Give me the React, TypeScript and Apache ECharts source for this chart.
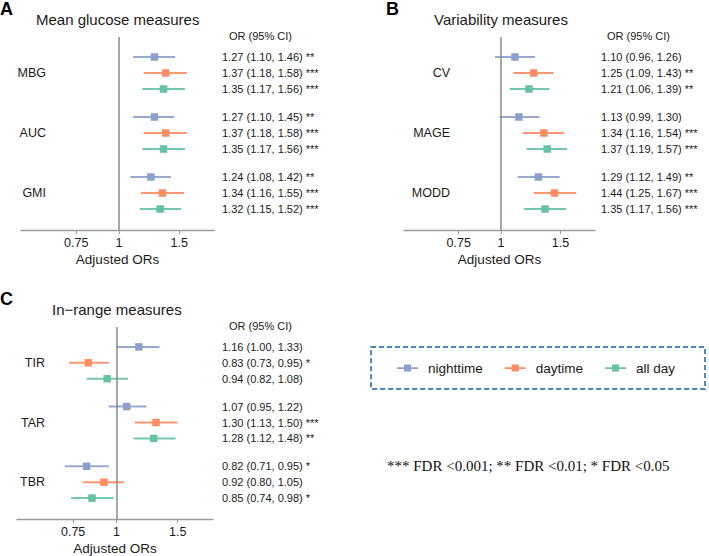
import React, { useEffect, useRef } from "react";
import * as echarts from "echarts";

// ---------- data ----------
const periods = ["nighttime", "daytime", "all day"];
const periodColors = ["#8da0cb", "#fc8d62", "#66c2a5"];
const xTickValues = [0.75, 1, 1.5];

// Panel A: Mean glucose measures
const measuresA = ["MBG", "AUC", "GMI"];
const nightOrA = [1.27, 1.27, 1.24];
const nightLoA = [1.1, 1.1, 1.08];
const nightHiA = [1.46, 1.45, 1.42];
const nightSigA = ["**", "**", "**"];
const dayOrA = [1.37, 1.37, 1.34];
const dayLoA = [1.18, 1.18, 1.16];
const dayHiA = [1.58, 1.58, 1.55];
const daySigA = ["***", "***", "***"];
const allOrA = [1.35, 1.35, 1.32];
const allLoA = [1.17, 1.17, 1.15];
const allHiA = [1.56, 1.56, 1.52];
const allSigA = ["***", "***", "***"];

// Panel B: Variability measures
const measuresB = ["CV", "MAGE", "MODD"];
const nightOrB = [1.1, 1.13, 1.29];
const nightLoB = [0.96, 0.99, 1.12];
const nightHiB = [1.26, 1.3, 1.49];
const nightSigB = ["", "", "**"];
const dayOrB = [1.25, 1.34, 1.44];
const dayLoB = [1.09, 1.16, 1.25];
const dayHiB = [1.43, 1.54, 1.67];
const daySigB = ["**", "***", "***"];
const allOrB = [1.21, 1.37, 1.35];
const allLoB = [1.06, 1.19, 1.17];
const allHiB = [1.39, 1.57, 1.56];
const allSigB = ["**", "***", "***"];

// Panel C: In-range measures
const measuresC = ["TIR", "TAR", "TBR"];
const nightOrC = [1.16, 1.07, 0.82];
const nightLoC = [1.0, 0.95, 0.71];
const nightHiC = [1.33, 1.22, 0.95];
const nightSigC = ["", "", "*"];
const dayOrC = [0.83, 1.3, 0.92];
const dayLoC = [0.73, 1.13, 0.8];
const dayHiC = [0.95, 1.5, 1.05];
const daySigC = ["*", "***", ""];
const allOrC = [0.94, 1.28, 0.85];
const allLoC = [0.82, 1.12, 0.74];
const allHiC = [1.08, 1.48, 0.98];
const allSigC = ["", "**", "*"];

const panels = [
  {
    letter: "A",
    title: "Mean glucose measures",
    measures: measuresA,
    sets: [
      [nightOrA, nightLoA, nightHiA, nightSigA],
      [dayOrA, dayLoA, dayHiA, daySigA],
      [allOrA, allLoA, allHiA, allSigA],
    ],
  },
  {
    letter: "B",
    title: "Variability measures",
    measures: measuresB,
    sets: [
      [nightOrB, nightLoB, nightHiB, nightSigB],
      [dayOrB, dayLoB, dayHiB, daySigB],
      [allOrB, allLoB, allHiB, allSigB],
    ],
  },
  {
    letter: "C",
    title: "In\u2212range measures",
    measures: measuresC,
    sets: [
      [nightOrC, nightLoC, nightHiC, nightSigC],
      [dayOrC, dayLoC, dayHiC, daySigC],
      [allOrC, allLoC, allHiC, allSigC],
    ],
  },
];

// ---------- layout ----------
const FONT = '"Liberation Sans", Arial, Helvetica, sans-serif';
const GROUP_STEP = 3.75;
const layouts = [
  { left: 21, top: 37, width: 193, height: 193, labelMargin: -25, letterX: 0, letterY: 0, titleX: 36, titleY: 12, headX: 229, headY: 30, textOff: 8 },
  { left: 404, top: 37, width: 191, height: 193, labelMargin: -46, letterX: 386, letterY: 0, titleX: 434, titleY: 12, headX: 607, headY: 30, textOff: 6 },
  { left: 17, top: 327, width: 196, height: 192, labelMargin: -28, letterX: 0, letterY: 290, titleX: 52, titleY: 302, headX: 229, headY: 320, textOff: 9 },
];

const fmt = (v: number) => v.toFixed(2);

export default function App() {
  const ref = useRef<HTMLDivElement>(null);

  useEffect(() => {
    if (!ref.current) return;
    const chart = echarts.init(ref.current, undefined, { renderer: "svg" });

    const grids: any[] = [];
    const xAxes: any[] = [];
    const yAxes: any[] = [];
    const series: any[] = [];
    const titles: any[] = [];

    panels.forEach((panel, pi) => {
      const L = layouts[pi];
      grids.push({ left: L.left, top: L.top, width: L.width, height: L.height });
      xAxes.push({
        type: "value",
        gridIndex: pi,
        min: -0.66,
        max: 0.64,
        axisLine: { show: true, onZero: false, lineStyle: { color: "#9a9a9a", width: 1.3 } },
        axisTick: {
          show: true,
          customValues: xTickValues.map((v) => Math.log(v)),
          length: 4,
          lineStyle: { color: "#9a9a9a", width: 1 },
        },
        axisLabel: {
          customValues: xTickValues.map((v) => Math.log(v)),
          formatter: (v: number) => String(Number(Math.exp(v).toFixed(2))),
          color: "#1a1a1a",
          fontSize: 12.5,
          fontFamily: FONT,
          margin: 6,
        },
        splitLine: { show: false },
        name: "Adjusted ORs",
        nameLocation: "middle",
        nameGap: 22,
        nameTextStyle: { color: "#1a1a1a", fontSize: 13.5, fontFamily: FONT },
      });
      const labelPos = panel.measures.map((_, gi) => gi * GROUP_STEP + 1);
      yAxes.push({
        type: "value",
        gridIndex: pi,
        inverse: true,
        min: -1.25,
        max: 10.8125,
        axisLine: { show: false, onZero: false },
        axisTick: { show: false },
        splitLine: { show: false },
        axisLabel: {
          customValues: labelPos,
          formatter: (v: number) => panel.measures[Math.round((v - 1) / GROUP_STEP)] ?? "",
          margin: L.labelMargin,
          color: "#1a1a1a",
          fontSize: 12.5,
          fontFamily: FONT,
        },
      });

      titles.push({
        text: panel.letter,
        left: L.letterX,
        top: L.letterY,
        padding: 0,
        textStyle: { fontSize: 18, fontWeight: "bold", color: "#000", fontFamily: FONT },
      });
      titles.push({
        text: panel.title,
        left: L.titleX,
        top: L.titleY,
        padding: 0,
        textStyle: { fontSize: 15, fontWeight: "normal", color: "#1a1a1a", fontFamily: FONT },
      });
      titles.push({
        text: "OR (95% CI)",
        left: L.headX,
        top: L.headY,
        padding: 0,
        textStyle: { fontSize: 11, fontWeight: "normal", color: "#1a1a1a", fontFamily: FONT },
      });

      panel.sets.forEach((set, si) => {
        const [ors, los, his, sigs] = set as [number[], number[], number[], string[]];
        const color = periodColors[si];
        const data = ors.map((or, gi) => [
          gi * GROUP_STEP + si,
          Math.log(or),
          Math.log(los[gi]),
          Math.log(his[gi]),
        ]);
        const labels = ors.map(
          (or, gi) => `${fmt(or)} (${fmt(los[gi])}, ${fmt(his[gi])})${sigs[gi] ? " " + sigs[gi] : ""}`
        );
        const s: any = {
          type: "custom",
          name: periods[si],
          xAxisIndex: pi,
          yAxisIndex: pi,
          itemStyle: { color },
          encode: { x: [1, 2, 3], y: 0 },
          data,
          renderItem: (params: any, api: any) => {
            const y = api.value(0);
            const pOr = api.coord([api.value(1), y]);
            const pLo = api.coord([api.value(2), y]);
            const pHi = api.coord([api.value(3), y]);
            const cs = params.coordSys;
            const sz = 7.5;
            return {
              type: "group",
              children: [
                {
                  type: "line",
                  shape: { x1: pLo[0], y1: pLo[1], x2: pHi[0], y2: pHi[1] },
                  style: { stroke: color, lineWidth: 2, opacity: 0.9 },
                },
                {
                  type: "rect",
                  shape: { x: pOr[0] - sz / 2, y: pOr[1] - sz / 2, width: sz, height: sz },
                  style: { fill: color },
                },
                {
                  type: "text",
                  x: cs.x + cs.width + L.textOff,
                  y: pOr[1],
                  style: {
                    text: labels[params.dataIndex],
                    fill: "#1a1a1a",
                    font: `11px ${FONT}`,
                    align: "left",
                    verticalAlign: "middle",
                  },
                },
              ],
            };
          },
        };
        if (si === 0) {
          s.markLine = {
            silent: true,
            symbol: ["none", "none"],
            label: { show: false },
            lineStyle: { color: "#8a8a8a", width: 1.5, type: "solid" },
            data: [{ xAxis: 0 }],
          };
        }
        series.push(s);
      });
    });

    const iconPath = "path://M0,3H8V0H16V3H24V5H16V8H8V5H0Z";

    chart.setOption({
      animation: false,
      backgroundColor: "#ffffff",
      title: titles,
      grid: grids,
      xAxis: xAxes,
      yAxis: yAxes,
      legend: {
        data: periods.map((p) => ({ name: p, icon: iconPath })),
        selectedMode: false,
        left: 371,
        top: 347,
        orient: "horizontal",
        itemWidth: 21,
        itemHeight: 7,
        itemGap: 22,
        padding: [14, 30, 14, 26],
        borderColor: "#4a87c5",
        borderWidth: 2,
        borderType: [5, 3],
        textStyle: { fontSize: 13.5, color: "#1a1a1a", fontFamily: FONT, padding: [0, 0, 0, 5] },
      },
      graphic: [
        {
          type: "text",
          left: 387,
          top: 458,
          style: {
            text: "*** FDR <0.001; ** FDR <0.01; * FDR <0.05",
            font: '15px "Liberation Serif", "Times New Roman", serif',
            fill: "#111",
          },
        },
      ],
      series,
    });

    return () => chart.dispose();
  }, []);

  return (
    <div
      ref={ref}
      style={{ position: "fixed", left: 0, top: 0, width: 709, height: 556, background: "#fff" }}
    />
  );
}
